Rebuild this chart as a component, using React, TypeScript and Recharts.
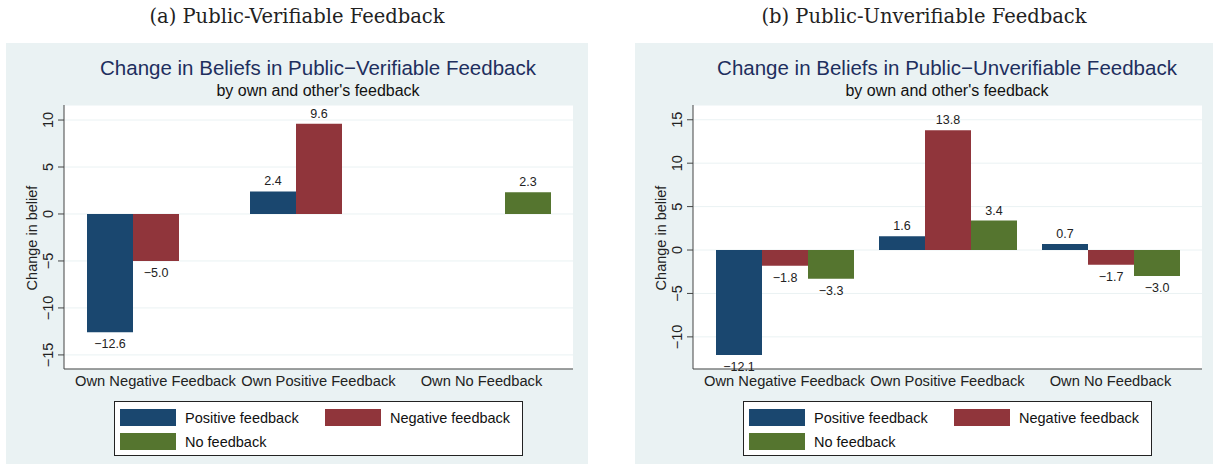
import { Bar, BarChart, CartesianGrid, LabelList, XAxis, YAxis } from 'recharts';

// categories on the x axis
const categories = ['Own Negative Feedback', 'Own Positive Feedback', 'Own No Feedback'];

// (a) public-verifiable feedback
const verifiablePositive = [-12.6, 2.4, null];
const verifiableNegative = [-5.0, 9.6, null];
const verifiableNone = [null, null, 2.3];
const verifiableTicks = [-15, -10, -5, 0, 5, 10];

// (b) public-unverifiable feedback
const unverifiablePositive = [-12.1, 1.6, 0.7];
const unverifiableNegative = [-1.8, 13.8, -1.7];
const unverifiableNone = [-3.3, 3.4, -3.0];
const unverifiableTicks = [-10, -5, 0, 5, 10, 15];

const seriesNames = ['Positive feedback', 'Negative feedback', 'No feedback'];
const seriesColors = ['#1a476f', '#90353b', '#55752f'];

const SANS = '"Liberation Sans", Arial, sans-serif';
const BG = '#eaf2f3';

const buildRows = (pos: (number | null)[], neg: (number | null)[], none: (number | null)[]) =>
  categories.map((name, i) => ({ name, pos: pos[i], neg: neg[i], none: none[i] }));

const fmt = (v: number) => v.toFixed(1).replace('-', '\u2212');

const BarValue = (props: any) => {
  const { x, y, width, height, value } = props;
  if (value === null || value === undefined) return null;
  const top = Math.min(y, y + height);
  const bottom = Math.max(y, y + height);
  const cy = value >= 0 ? top - 10 : bottom + 12;
  return (
    <text x={x + width / 2} y={cy} textAnchor="middle" dominantBaseline="central" fontSize={12.5} fontFamily={SANS} fill="#222">
      {fmt(value)}
    </text>
  );
};

const YTick = (props: any) => {
  const { x, y, payload } = props;
  const cx = x - 10;
  return (
    <text x={cx} y={y} transform={`rotate(-90, ${cx}, ${y})`} textAnchor="middle" dominantBaseline="central" fontSize={14.5} fontFamily={SANS} fill="#222">
      {String(payload.value).replace('-', '\u2212')}
    </text>
  );
};

const XTick = (props: any) => {
  const { x, y, payload } = props;
  return (
    <text x={x} y={y + 12} textAnchor="middle" dominantBaseline="central" fontSize={14.7} fontFamily={SANS} fill="#222">
      {payload.value}
    </text>
  );
};

type PanelProps = {
  left: number;
  width: number;
  heading: string;
  title: string;
  rows: any[];
  domain: [number, number];
  ticks: number[];
};

const Panel = ({ left, width, heading, title, rows, domain, ticks }: PanelProps) => {
  const keys = ['pos', 'neg', 'none'];
  return (
    <>
      <div style={{ position: 'absolute', left, top: 5, width, textAlign: 'center', fontFamily: '"DejaVu Serif", serif', fontSize: 19.5, color: '#222' }}>
        {heading}
      </div>
      <div style={{ position: 'absolute', left, top: 43, width, height: 421, background: BG, fontFamily: SANS }}>
        <div style={{ position: 'absolute', left: 0, top: 13, width: 624, textAlign: 'center', fontSize: 20.5, color: '#1e2f5e' }}>{title}</div>
        <div style={{ position: 'absolute', left: 0, top: 39, width: 624, textAlign: 'center', fontSize: 16, color: '#111' }}>
          by own and other's feedback
        </div>
        <div style={{ position: 'absolute', left: 26, top: 196, width: 0, height: 0 }}>
          <div style={{ position: 'absolute', left: -60, top: -9, width: 120, textAlign: 'center', fontSize: 14.5, color: '#222', transform: 'rotate(-90deg)', whiteSpace: 'nowrap' }}>
            Change in belief
          </div>
        </div>
        <BarChart
          width={width}
          height={421}
          data={rows}
          margin={{ top: 62, right: width - 567, left: 0, bottom: 65 }}
          barCategoryGap={13}
          barGap={0}
        >
          <CartesianGrid vertical={false} stroke={BG} fill="#ffffff" />
          <XAxis
            dataKey="name"
            height={30}
            padding={{ left: 10, right: 10 }}
            tickLine={false}
            tickSize={0}
            tickMargin={0}
            tick={<XTick />}
            axisLine={{ stroke: '#444' }}
            interval={0}
          />
          <YAxis
            width={58}
            type="number"
            domain={domain}
            ticks={ticks}
            tickSize={6}
            tickMargin={0}
            tick={<YTick />}
            tickLine={{ stroke: '#444' }}
            axisLine={{ stroke: '#444' }}
            allowDataOverflow
          />
          {keys.map((k, i) => (
            <Bar key={k} dataKey={k} name={seriesNames[i]} fill={seriesColors[i]} isAnimationActive={false}>
              <LabelList dataKey={k} content={<BarValue />} />
            </Bar>
          ))}
        </BarChart>
        <div style={{ position: 'absolute', left: 108, top: 358, width: 407, height: 53, border: '1px solid #222', background: '#fff', fontSize: 14.5, color: '#111' }}>
          {seriesNames.map((n, i) => {
            const col = i % 2;
            const row = Math.floor(i / 2);
            return (
              <div key={n} style={{ position: 'absolute', left: 5 + col * 205, top: 7 + row * 24, height: 17, display: 'flex', alignItems: 'center' }}>
                <div style={{ width: 56, height: 17, background: seriesColors[i] }} />
                <span style={{ marginLeft: 9, whiteSpace: 'nowrap' }}>{n}</span>
              </div>
            );
          })}
        </div>
      </div>
    </>
  );
};

export default function App() {
  return (
    <div style={{ position: 'absolute', left: 0, top: 0, width: 1213, height: 464, background: '#fff', overflow: 'hidden' }}>
      <Panel
        left={6}
        width={582}
        heading="(a) Public-Verifiable Feedback"
        title={'Change in Beliefs in Public\u2212Verifiable Feedback'}
        rows={buildRows(verifiablePositive, verifiableNegative, verifiableNone)}
        domain={[-16.5, 11.6]}
        ticks={verifiableTicks}
      />
      <Panel
        left={635}
        width={578}
        heading="(b) Public-Unverifiable Feedback"
        title={'Change in Beliefs in Public\u2212Unverifiable Feedback'}
        rows={buildRows(unverifiablePositive, unverifiableNegative, unverifiableNone)}
        domain={[-13.7, 16.7]}
        ticks={unverifiableTicks}
      />
    </div>
  );
}
